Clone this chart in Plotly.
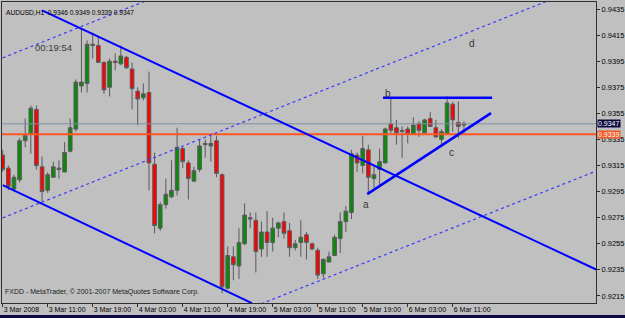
import plotly.graph_objects as go

# ---------------- data ----------------
bar_index = list(range(83))
opens = [.9323,.9313,.9297,.9304,.9334,.9339,.9358,.9314,.9296,.9306,
         .9313,.9310,.9326,.9343,.9376,.9378,.9407,.9407,.9394,.9375,
         .9395,.9393,.9398,.9389,.9372,.9367,.9371,.9316,.9267,.9285,
         .9291,.9296,.9328,.9317,.9303,.9312,.9332,.9330,.9334,.9308,
         .9221,.9245,.9238,.9255,.9275,.9273,.9251,.9264,.9256,.9267,
         .9272,.9265,.9252,.9256,.9262,.9255,.9250,.9232,.9241,.9246,
         .9259,.9272,.9279,.9323,.9315,.9327,.9305,.9312,.9317,.9347,
         .9344,.9341,.9343,.9339,.9347,.9340,.9351,.9344,.9335,.9339,
         .9362,.9348,.9346]
highs = [.9327,.9315,.9308,.9336,.9351,.9361,.9361,.9322,.9310,.9318,
         .9319,.9333,.9351,.9381,.9420,.9411,.9417,.9414,.9395,.9397,
         .9401,.9407,.9399,.9394,.9375,.9378,.9387,.9325,.9287,.9305,
         .9319,.9344,.9329,.9319,.9314,.9335,.9335,.9338,.9338,.9309,
         .9253,.9253,.9267,.9286,.9279,.9279,.9272,.9280,.9275,.9272,
         .9279,.9271,.9258,.9273,.9264,.9256,.9252,.9244,.9249,.9262,
         .9279,.9284,.9327,.9325,.9338,.9331,.9315,.9328,.9344,.9367,
         .9350,.9345,.9345,.9352,.9349,.9351,.9356,.9350,.9343,.9368,
         .9364,.9364,.9349]
lows = [.9310,.9296,.9295,.9302,.9329,.9324,.9312,.9287,.9294,.9306,
        .9305,.9310,.9325,.9341,.9371,.9371,.9397,.9394,.9370,.9368,
        .9388,.9392,.9389,.9358,.9346,.9365,.9296,.9263,.9265,.9282,
        .9290,.9292,.9313,.9289,.9303,.9310,.9321,.9318,.9306,.9217,
        .9220,.9227,.9228,.9254,.9267,.9233,.9245,.9245,.9249,.9260,
        .9259,.9245,.9250,.9245,.9243,.9250,.9228,.9229,.9241,.9246,
        .9248,.9264,.9274,.9310,.9309,.9294,.9298,.9300,.9317,.9340,
        .9331,.9321,.9332,.9339,.9337,.9340,.9345,.9336,.9331,.9339,
        .9341,.9336,.9339]
closes = [.9312,.9299,.9306,.9334,.9338,.9359,.9315,.9295,.9308,.9314,
          .9312,.9325,.9344,.9379,.9379,.9408,.9408,.9394,.9373,.9395,
          .9394,.9399,.9390,.9374,.9366,.9370,.9317,.9269,.9285,.9293,
          .9296,.9329,.9318,.9305,.9311,.9330,.9331,.9332,.9309,.9222,
          .9246,.9239,.9256,.9277,.9274,.9249,.9264,.9256,.9267,.9271,
          .9263,.9252,.9255,.9260,.9256,.9251,.9231,.9243,.9245,.9260,
          .9272,.9280,.9324,.9317,.9328,.9306,.9308,.9318,.9343,.9342,
          .9340,.9342,.9339,.9346,.9342,.9350,.9345,.9337,.9341,.9363,
          .9350,.9345,.9347]

time_tick_index = [0, 8, 16, 24, 32, 40, 48, 56, 64, 72, 80]
time_tick_labels = ["3 Mar 2008", "3 Mar 11:00", "3 Mar 19:00", "4 Mar 03:00",
                    "4 Mar 11:00", "4 Mar 19:00", "5 Mar 03:00", "5 Mar 11:00",
                    "5 Mar 19:00", "6 Mar 03:00", "6 Mar 11:00"]
price_ticks = [0.9215, 0.9235, 0.9255, 0.9275, 0.9295, 0.9315, 0.9335,
               0.9355, 0.9375, 0.9395, 0.9415, 0.9435]

bid_price = 0.9347
level_price = 0.9339

# trendlines: (bar index, price) end points
channel_upper_x = [7, 105.5]
channel_upper_y = [0.9434, 0.92353]
channel_lower_x = [0, 44.3]
channel_lower_y = [0.9300, 0.92095]
tri_top_x = [67.6, 87.0]
tri_top_y = [0.9367, 0.9367]
tri_low_x = [64.8, 86.8]
tri_low_y = [0.92931, 0.93552]
dot_a_x = [-1, 30]
dot_a_y = [0.93959, 0.94491]
dot_b_x = [-1, 100]
dot_b_y = [0.92732, 0.94466]
dot_c_x = [40, 106]
dot_c_y = [0.91988, 0.93116]

wave_labels = ["a", "b", "c", "d"]
wave_x = [64.6, 68.5, 79.7, 83.4]
wave_y = [0.92854, 0.93706, 0.93253, 0.94082]

FONT = "Liberation Sans, Arial, sans-serif"
BG = "#c0c0c0"

fig = go.Figure()

def line(xs, ys, color, width, dash="solid"):
    fig.add_trace(go.Scatter(x=xs, y=ys, mode="lines", hoverinfo="skip",
                             line=dict(color=color, width=width, dash=dash),
                             showlegend=False))

line([-1, 106], [bid_price, bid_price], "#7f8fa0", 1)
line([-1, 106], [level_price, level_price], "#ff5522", 2)

fig.add_trace(go.Candlestick(
    x=bar_index, open=opens, high=highs, low=lows, close=closes,
    increasing=dict(fillcolor="#0a8a0a", line=dict(color="#5a5a5a", width=1)),
    decreasing=dict(fillcolor="#ff0000", line=dict(color="#5a5a5a", width=1)),
    whiskerwidth=0, showlegend=False, hoverinfo="skip"))

line(dot_a_x, dot_a_y, "#3a3aff", 1.2, "dot")
line(dot_b_x, dot_b_y, "#3a3aff", 1.2, "dot")
line(dot_c_x, dot_c_y, "#3a3aff", 1.2, "dot")
line(channel_upper_x, channel_upper_y, "#0000ff", 2)
line(channel_lower_x, channel_lower_y, "#0000ff", 2)
line(tri_top_x, tri_top_y, "#0000ff", 2.5)
line(tri_low_x, tri_low_y, "#0000ff", 2.5)

ann = []
for t, xx, yy in zip(wave_labels, wave_x, wave_y):
    ann.append(dict(x=xx, y=yy, xref="x", yref="y", text=t, showarrow=False,
                    font=dict(family=FONT, size=10, color="#3a3535")))
ann.append(dict(x=0.052, y=0.874, xref="paper", yref="paper", xanchor="left",
                text="00:19:54", showarrow=False,
                font=dict(family=FONT, size=9.5, color="#3a3a3a")))
ann.append(dict(x=0.004, y=0.983, xref="paper", yref="paper", xanchor="left",
                text="AUDUSD,H1  0.9346 0.9349 0.9339 0.9347", showarrow=False,
                font=dict(family=FONT, size=6.6, color="#000000")))
ann.append(dict(x=0.002, y=0.017, xref="paper", yref="paper", xanchor="left",
                text="FXDD - MetaTrader, © 2001-2007 MetaQuotes Software Corp.",
                showarrow=False, font=dict(family=FONT, size=7, color="#202020")))
for p, bg in [(bid_price, "#0a0a40"), (level_price, "#f05a28")]:
    ann.append(dict(x=1, y=p, xref="paper", yref="y", xanchor="left", xshift=1,
                    text=f"{p:.4f}", showarrow=False, bgcolor=bg, borderpad=0,
                    font=dict(family=FONT, size=7, color="#ffffff")))

fig.update_layout(
    width=625, height=318,
    margin=dict(l=2, r=29, t=2, b=15, autoexpand=False),
    paper_bgcolor=BG, plot_bgcolor=BG,
    boxgap=0.1, boxgroupgap=0.28,
    annotations=ann,
    shapes=[dict(type="rect", xref="paper", yref="paper", x0=-0.01, x1=1.06,
                 y0=-0.06, y1=-0.040, fillcolor="#0c0c40", line=dict(width=0),
                 layer="above")],
    xaxis=dict(range=[-0.124, 105.47], rangeslider=dict(visible=False),
               showgrid=False, zeroline=False, showline=True, mirror=True,
               linecolor="#303030", linewidth=1, automargin=False,
               tickvals=time_tick_index, ticktext=time_tick_labels,
               ticks="outside", ticklen=3, tickcolor="#303030", tickangle=0,
               ticklabelposition="outside right",
               tickfont=dict(family=FONT, size=7, color="#000000")),
    yaxis=dict(range=[0.92096, 0.94404], side="right", automargin=False,
               showgrid=False, zeroline=False, showline=True, mirror=True,
               linecolor="#303030", linewidth=1,
               tickvals=price_ticks, tickformat=".4f",
               ticks="outside", ticklen=3, tickcolor="#303030",
               tickfont=dict(family=FONT, size=7.5, color="#000000")),
)

fig.write_html("out.html")
